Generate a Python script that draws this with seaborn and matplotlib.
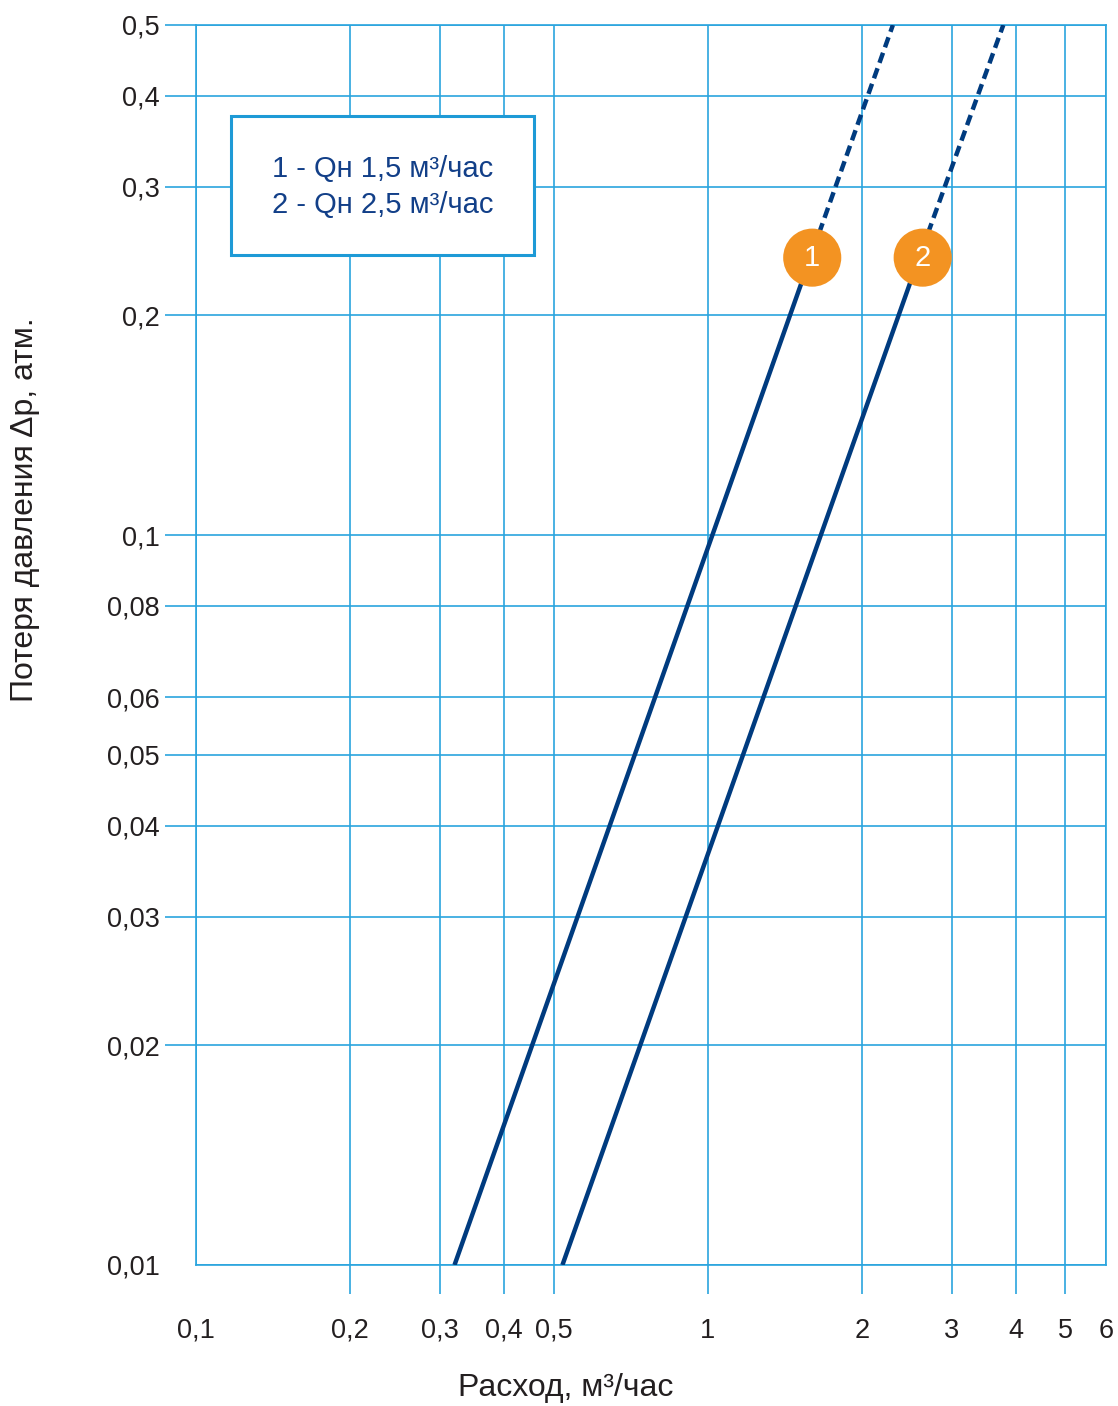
import numpy as np
import pandas as pd
import matplotlib
matplotlib.use('Agg')
import matplotlib.pyplot as plt
import seaborn as sns
from matplotlib.patches import Rectangle

sns.set_style('white')
plt.rcParams['font.family'] = ['Liberation Sans', 'DejaVu Sans']

# data (Q in m3/h, dp in atm)
line1_q = [0.32, 1.57, 2.3]
line1_dp = [0.01, 0.235, 0.5]
line2_q = [0.52, 2.56, 3.78]
line2_dp = [0.01, 0.235, 0.5]
marker_q = [1.6, 2.63]
marker_dp = [0.24, 0.24]
marker_labels = ['1', '2']

x_ticks = [0.1, 0.2, 0.3, 0.4, 0.5, 1, 2, 3, 4, 5, 6]
x_labels = ['0,1', '0,2', '0,3', '0,4', '0,5', '1', '2', '3', '4', '5', '6']
y_ticks = [0.01, 0.02, 0.03, 0.04, 0.05, 0.06, 0.08, 0.1, 0.2, 0.3, 0.4, 0.5]
y_labels = ['0,01', '0,02', '0,03', '0,04', '0,05', '0,06', '0,08', '0,1', '0,2', '0,3', '0,4', '0,5']
legend_lines = ['1 - Qн 1,5 м³/час', '2 - Qн 2,5 м³/час']

grid_c = '#2AA4DE'
line_c = '#003B7F'
orange = '#F39322'
text_c = '#231F20'

fig = plt.figure(figsize=(11.18, 14.06), dpi=100)
ax = fig.add_axes([196/1118, 1 - 1265/1406, 910/1118, 1240/1406])
ax.set_xscale('log')
ax.set_yscale('log')

# solid part up to the marker, dashed beyond
for q, dp in [(line1_q, line1_dp), (line2_q, line2_dp)]:
    df_solid = pd.DataFrame({'q': q[:2], 'dp': dp[:2]})
    df_dash = pd.DataFrame({'q': q[1:], 'dp': dp[1:]})
    sns.lineplot(data=df_solid, x='q', y='dp', ax=ax, color=line_c, lw=3.2,
                 solid_capstyle='butt', zorder=3)
    sns.lineplot(data=df_dash, x='q', y='dp', ax=ax, color=line_c, lw=3.2,
                 zorder=3).lines[-1].set_dashes((2.4, 1.3))

df_m = pd.DataFrame({'q': marker_q, 'dp': marker_dp})
sns.scatterplot(data=df_m, x='q', y='dp', ax=ax, s=1750, color=orange,
                edgecolor='none', zorder=4)
for q, dp, lab in zip(marker_q, marker_dp, marker_labels):
    ax.text(q, dp, lab, color='white', fontsize=21, ha='center', va='center', zorder=5)

ax.set_xlim(0.1, 6)
ax.set_ylim(0.01, 0.5)
ax.set_xticks(x_ticks)
ax.set_xticklabels(x_labels)
ax.set_yticks(y_ticks)
ax.set_yticklabels(y_labels)
ax.minorticks_off()
ax.grid(True, which='major', color=grid_c, lw=1.2)
# tick lengths/pads in points (px * 0.72)
ax.tick_params(axis='x', bottom=True, direction='out', length=21, width=1.2,
               color=grid_c, pad=17, labelsize=19.5, labelcolor=text_c)
ax.tick_params(axis='y', left=True, direction='out', length=22.3, width=1.2,
               color=grid_c, pad=3.6, labelsize=19.5, labelcolor=text_c)
for t in ax.xaxis.get_major_ticks():
    if t.get_loc() in (0.1, 6):
        t.tick1line.set_visible(False)
for t in ax.yaxis.get_major_ticks():
    if t.get_loc() == 0.01:
        t.tick1line.set_visible(False)
for s in ax.spines.values():
    s.set_color(grid_c)
    s.set_linewidth(1.2)
ax.set_xlabel('')
ax.set_ylabel('')

# legend box
ax.add_patch(Rectangle((0.0385, 0.8145), 0.3325, 0.1125, transform=ax.transAxes,
                       facecolor='white', edgecolor='#1E9AD6', lw=2.2, zorder=6))
ax.text(0.2055, 0.8835, legend_lines[0], transform=ax.transAxes, ha='center',
        va='center', fontsize=21, color='#123F88', zorder=7)
ax.text(0.2055, 0.855, legend_lines[1], transform=ax.transAxes, ha='center',
        va='center', fontsize=21, color='#123F88', zorder=7)

fig.text(566/1118, 1 - 1388/1406, 'Расход, м³/час', ha='center', va='center',
         fontsize=23, color=text_c)
fig.text(25/1118, 1 - 510/1406, 'Потеря давления Δp, атм.', ha='center', va='center',
         rotation=90, fontsize=23, color=text_c)

fig.savefig('out.png', dpi=100)
